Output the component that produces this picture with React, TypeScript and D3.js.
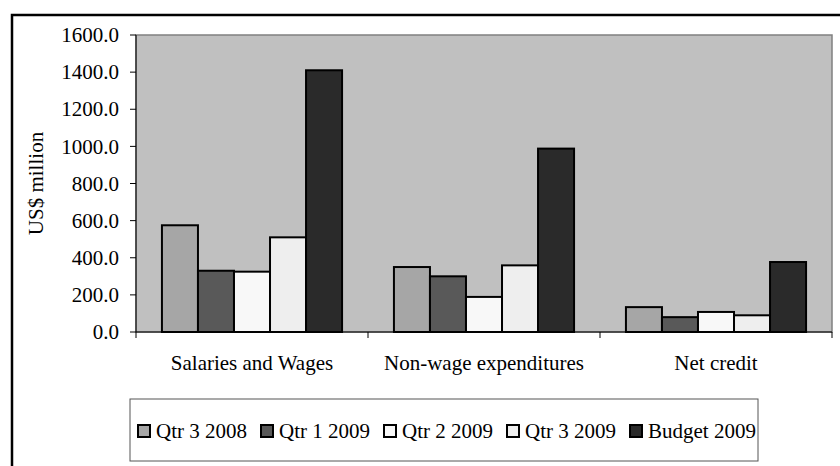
import { scaleLinear, scaleBand } from 'd3'

const CATEGORIES = ['Salaries and Wages', 'Non-wage expenditures', 'Net credit']
const SERIES = ['Qtr 3 2008', 'Qtr 1 2009', 'Qtr 2 2009', 'Qtr 3 2009', 'Budget 2009']
const QTR3_2008 = [575, 350, 134]
const QTR1_2009 = [330, 300, 80]
const QTR2_2009 = [325, 189, 108]
const QTR3_2009 = [510, 359, 90]
const BUDGET_2009 = [1410, 988, 377]
const Y_TICKS = [0, 200, 400, 600, 800, 1000, 1200, 1400, 1600]

const COLORS = ['#a6a6a6', '#595959', '#f8f8f8', '#eeeeee', '#2a2a2a']
const VALUES = [QTR3_2008, QTR1_2009, QTR2_2009, QTR3_2009, BUDGET_2009]

export default function App() {
  const width = 840
  const height = 466
  const plot = { left: 136, top: 35, right: 832, bottom: 332 }
  const font = "'Liberation Serif', 'DejaVu Serif', serif"
  const fs = 21

  const x = scaleBand().domain(CATEGORIES).range([plot.left, plot.right])
  const inner = scaleBand()
    .domain(SERIES)
    .range([0, x.bandwidth()])
    .paddingOuter(0.72)
    .paddingInner(0)
  const y = scaleLinear().domain([0, 1600]).range([plot.bottom, plot.top])

  // legend layout
  const legendX = 130
  const legendY = 399
  const legendW = 628
  const legendH = 62
  const legendStep = 123

  return (
    <svg
      width={width}
      height={height}
      style={{ position: 'absolute', left: 0, top: 0, display: 'block', fontFamily: font }}
    >
      <rect width={width} height={height} fill='#fff' />
      {/* outer frame */}
      <rect x={12} y={15} width={width} height={height} fill='none' stroke='#000' strokeWidth={2.5} />

      {/* plot area */}
      <rect
        x={plot.left}
        y={plot.top}
        width={plot.right - plot.left}
        height={plot.bottom - plot.top}
        fill='#c0c0c0'
        stroke='#808080'
        strokeWidth={1.5}
      />

      {/* y axis */}
      <line x1={plot.left} x2={plot.left} y1={plot.top} y2={plot.bottom} stroke='#000' />
      {Y_TICKS.map((t) => (
        <g key={t} transform={`translate(0, ${y(t)})`}>
          <line x1={plot.left - 6} x2={plot.left} stroke='#000' />
          <text x={plot.left - 17} dy='0.34em' textAnchor='end' fontSize={fs}>
            {t.toFixed(1)}
          </text>
        </g>
      ))}
      <text
        transform={`translate(43, ${(plot.top + plot.bottom) / 2}) rotate(-90)`}
        textAnchor='middle'
        fontSize={fs}
      >
        US$ million
      </text>

      {/* bars */}
      {CATEGORIES.map((c, ci) => (
        <g key={c} transform={`translate(${x(c)}, 0)`}>
          {SERIES.map((s, si) => (
            <rect
              key={s}
              x={inner(s)}
              y={y(VALUES[si][ci])}
              width={inner.bandwidth()}
              height={plot.bottom - y(VALUES[si][ci])}
              fill={COLORS[si]}
              stroke='#000'
              strokeWidth={2}
            />
          ))}
        </g>
      ))}

      {/* x axis */}
      <line x1={plot.left} x2={plot.right} y1={plot.bottom} y2={plot.bottom} stroke='#000' />
      {[...CATEGORIES.map((c) => x(c)!), plot.right].map((v, i) => (
        <line key={i} x1={v} x2={v} y1={plot.bottom} y2={plot.bottom + 6} stroke='#000' />
      ))}
      {CATEGORIES.map((c) => (
        <text
          key={c}
          x={x(c)! + x.bandwidth() / 2}
          y={370}
          textAnchor='middle'
          fontSize={fs}
        >
          {c}
        </text>
      ))}

      {/* legend */}
      <rect x={legendX} y={legendY} width={legendW} height={legendH} fill='#fff' stroke='#555' />
      {SERIES.map((s, i) => (
        <g key={s} transform={`translate(${legendX + 8 + i * legendStep}, 438)`}>
          <rect x={0} y={-13} width={12} height={12} fill={COLORS[i]} stroke='#000' strokeWidth={2} />
          <text x={18} fontSize={fs}>
            {s}
          </text>
        </g>
      ))}
    </svg>
  )
}
